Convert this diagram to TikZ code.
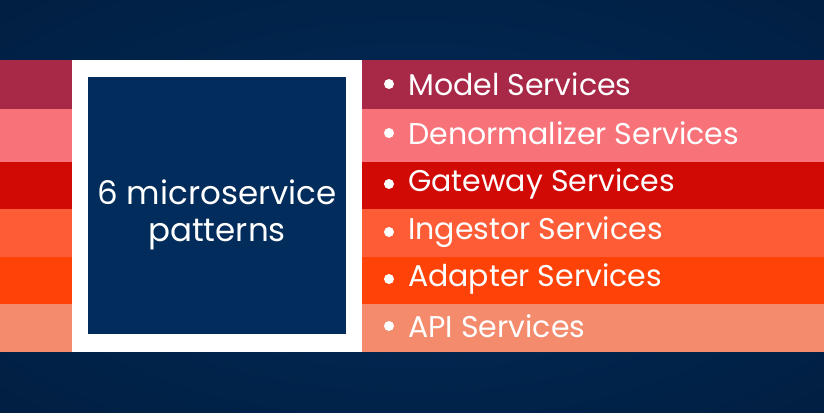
\documentclass[tikz,border=0pt]{standalone}
\usepackage{fontspec}
\setmainfont{Poppins}
\definecolor{navy}{HTML}{022C5C}
\definecolor{navyd}{HTML}{011E40}
\definecolor{sA}{HTML}{A82848}
\definecolor{sB}{HTML}{F8727A}
\definecolor{sC}{HTML}{D20A06}
\definecolor{sD}{HTML}{FE5C36}
\definecolor{sE}{HTML}{FF4308}
\definecolor{sF}{HTML}{F48B6C}
\begin{document}
\begin{tikzpicture}[x=1pt,y=-1pt,
  item/.style={anchor=west,text=white,font=\fontsize{30}{34}\selectfont,inner sep=0pt}]
\useasboundingbox (0,0) rectangle (824,412);
\fill[navy] (0,0) rectangle (824,412);
\fill[inner color=navy,outer color=navyd] (-200,-100) rectangle (1024,512);
\fill[sA] (0,60) rectangle (824,109);
\fill[sB] (0,109) rectangle (824,162);
\fill[sC] (0,162) rectangle (824,209);
\fill[sD] (0,209) rectangle (824,257);
\fill[sE] (0,257) rectangle (824,304);
\fill[sF] (0,304) rectangle (824,352);
\fill[white] (72,60) rectangle (362,352);
\fill[navy] (88,77) rectangle (346,334);
\node[text=white,align=center,font=\fontsize{32.5}{37}\selectfont] (title) at (217,215) {6 microservice\\patterns};
\foreach \t/\y [count=\i] in {Model Services/84,Denormalizer Services/133,Gateway Services/184,Ingestor Services/232,Adapter Services/279,API Services/326}{
  \fill[white] (389,\y) circle (5);
  \node[item] (it\i) at (408,\y) {\t};
}
\end{tikzpicture}
\end{document}
